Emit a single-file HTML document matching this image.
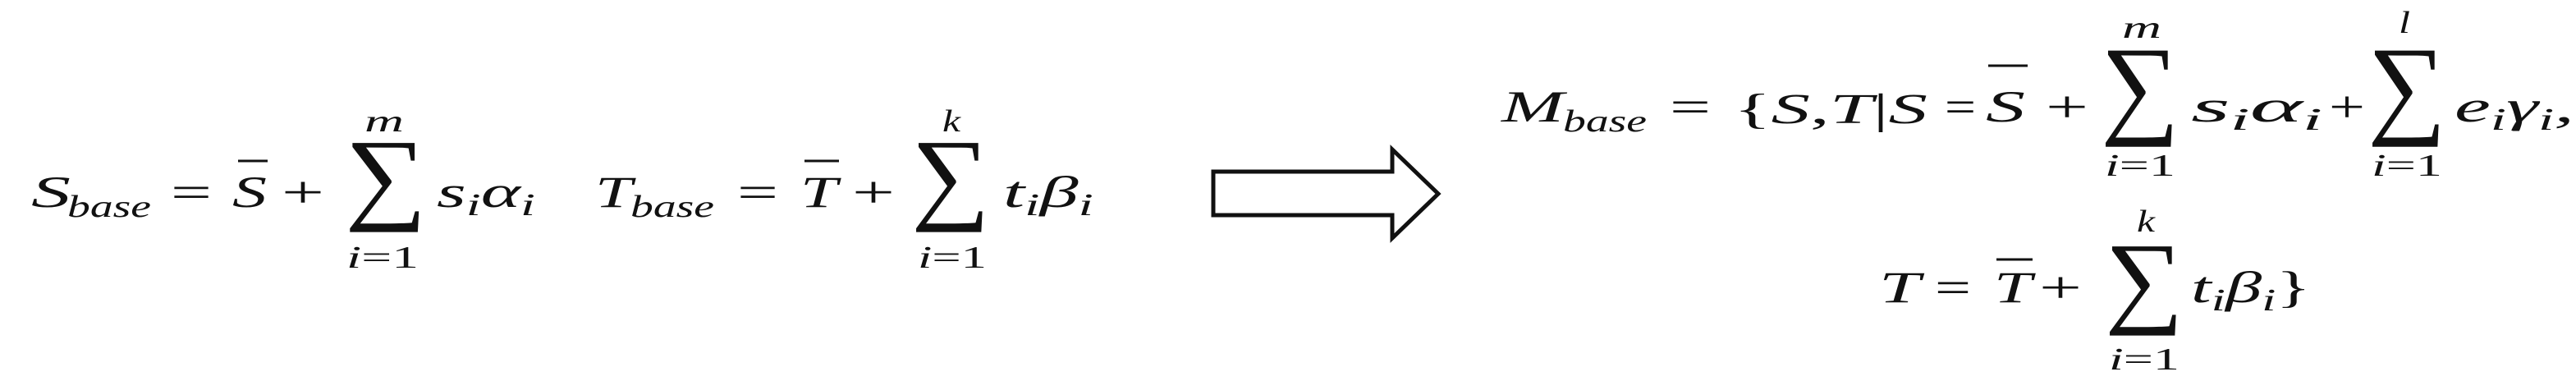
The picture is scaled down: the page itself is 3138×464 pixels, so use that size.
<!DOCTYPE html>
<html><head><meta charset="utf-8"><style>
html,body{margin:0;padding:0;background:#fff;}
svg{display:block}
text{font-family:"Liberation Serif",serif;fill:#111;}
.it{font-style:italic}
</style></head><body>
<svg width="3138" height="464" viewBox="0 0 3138 464">
<g>
  <text class="it" x="38" y="252" font-size="54" textLength="48" lengthAdjust="spacingAndGlyphs">S</text>
  <text class="it" x="82" y="264" font-size="38" textLength="102" lengthAdjust="spacingAndGlyphs">base</text>
  <text x="208" y="252" font-size="54" textLength="50" lengthAdjust="spacingAndGlyphs">=</text>
  <text class="it" x="283" y="252" font-size="54" textLength="42" lengthAdjust="spacingAndGlyphs">S</text>
  <line x1="290" y1="196" x2="326" y2="196" stroke="#111" stroke-width="3"/>
  <text x="343" y="252" font-size="54" textLength="52" lengthAdjust="spacingAndGlyphs">+</text>
  <text x="420" y="256" font-size="125" textLength="100" lengthAdjust="spacingAndGlyphs">∑</text>
  <text class="it" x="444" y="160" font-size="38" textLength="48" lengthAdjust="spacingAndGlyphs">m</text>
  <text x="422" y="326" font-size="38" textLength="88" lengthAdjust="spacingAndGlyphs"><tspan font-style="italic">i</tspan>=1</text>
  <text class="it" x="532" y="252" font-size="54" textLength="120" lengthAdjust="spacingAndGlyphs">s<tspan font-size="38" dy="10">i</tspan><tspan dy="-10">α</tspan><tspan font-size="38" dy="10">i</tspan></text>
  <text class="it" x="725" y="252" font-size="54" textLength="45" lengthAdjust="spacingAndGlyphs">T</text>
  <text class="it" x="768" y="264" font-size="38" textLength="102" lengthAdjust="spacingAndGlyphs">base</text>
  <text x="898" y="252" font-size="54" textLength="50" lengthAdjust="spacingAndGlyphs">=</text>
  <text class="it" x="975" y="252" font-size="54" textLength="45" lengthAdjust="spacingAndGlyphs">T</text>
  <line x1="980" y1="196" x2="1022" y2="196" stroke="#111" stroke-width="3"/>
  <text x="1038" y="252" font-size="54" textLength="52" lengthAdjust="spacingAndGlyphs">+</text>
  <text x="1110" y="256" font-size="125" textLength="96" lengthAdjust="spacingAndGlyphs">∑</text>
  <text class="it" x="1148" y="160" font-size="38" textLength="22" lengthAdjust="spacingAndGlyphs">k</text>
  <text x="1118" y="326" font-size="38" textLength="84" lengthAdjust="spacingAndGlyphs"><tspan font-style="italic">i</tspan>=1</text>
  <text class="it" x="1222" y="252" font-size="54" textLength="110" lengthAdjust="spacingAndGlyphs">t<tspan font-size="38" dy="10">i</tspan><tspan dy="-10">β</tspan><tspan font-size="38" dy="10">i</tspan></text>
</g>
<polygon points="1478,209 1696,209 1696,182 1752,236 1696,290 1696,262 1478,262" fill="#fff" stroke="#111" stroke-width="5"/>
<g>
  <text class="it" x="1829" y="148" font-size="54" textLength="76" lengthAdjust="spacingAndGlyphs">M</text>
  <text class="it" x="1904" y="160" font-size="38" textLength="102" lengthAdjust="spacingAndGlyphs">base</text>
  <text x="2034" y="148" font-size="54" textLength="50" lengthAdjust="spacingAndGlyphs">=</text>
  <text x="2112" y="150" font-size="52" textLength="236" lengthAdjust="spacingAndGlyphs">{<tspan font-style="italic">S</tspan>,<tspan font-style="italic">T</tspan>|<tspan font-style="italic">S</tspan></text>
  <text x="2369" y="148" font-size="54" textLength="38" lengthAdjust="spacingAndGlyphs">=</text>
  <text class="it" x="2419" y="148" font-size="54" textLength="48" lengthAdjust="spacingAndGlyphs">S</text>
  <line x1="2422" y1="80" x2="2470" y2="80" stroke="#111" stroke-width="3"/>
  <text x="2492" y="148" font-size="54" textLength="52" lengthAdjust="spacingAndGlyphs">+</text>
  <text x="2559" y="150" font-size="135" textLength="96" lengthAdjust="spacingAndGlyphs">∑</text>
  <text class="it" x="2585" y="46" font-size="38" textLength="48" lengthAdjust="spacingAndGlyphs">m</text>
  <text x="2564" y="214" font-size="38" textLength="86" lengthAdjust="spacingAndGlyphs"><tspan font-style="italic">i</tspan>=1</text>
  <text class="it" x="2669" y="148" font-size="54" textLength="160" lengthAdjust="spacingAndGlyphs">s<tspan font-size="38" dy="10">i</tspan><tspan dy="-10">α</tspan><tspan font-size="38" dy="10">i</tspan></text>
  <text x="2837" y="148" font-size="54" textLength="44" lengthAdjust="spacingAndGlyphs">+</text>
  <text x="2884" y="150" font-size="135" textLength="96" lengthAdjust="spacingAndGlyphs">∑</text>
  <text class="it" x="2922" y="40" font-size="38" textLength="14" lengthAdjust="spacingAndGlyphs">l</text>
  <text x="2889" y="214" font-size="38" textLength="86" lengthAdjust="spacingAndGlyphs"><tspan font-style="italic">i</tspan>=1</text>
  <text class="it" x="2990" y="148" font-size="54" textLength="146" lengthAdjust="spacingAndGlyphs">e<tspan font-size="38" dy="10">i</tspan><tspan dy="-10">γ</tspan><tspan font-size="38" dy="10">i</tspan><tspan dy="-10">,</tspan></text>
  <text class="it" x="2289" y="368" font-size="54" textLength="50" lengthAdjust="spacingAndGlyphs">T</text>
  <text x="2357" y="368" font-size="54" textLength="44" lengthAdjust="spacingAndGlyphs">=</text>
  <text class="it" x="2429" y="368" font-size="54" textLength="46" lengthAdjust="spacingAndGlyphs">T</text>
  <line x1="2432" y1="316" x2="2476" y2="316" stroke="#111" stroke-width="3"/>
  <text x="2484" y="368" font-size="54" textLength="52" lengthAdjust="spacingAndGlyphs">+</text>
  <text x="2564" y="382" font-size="125" textLength="96" lengthAdjust="spacingAndGlyphs">∑</text>
  <text class="it" x="2603" y="282" font-size="38" textLength="22" lengthAdjust="spacingAndGlyphs">k</text>
  <text x="2569" y="450" font-size="38" textLength="86" lengthAdjust="spacingAndGlyphs"><tspan font-style="italic">i</tspan>=1</text>
  <text class="it" x="2669" y="368" font-size="54" textLength="146" lengthAdjust="spacingAndGlyphs">t<tspan font-size="38" dy="10">i</tspan><tspan dy="-10">β</tspan><tspan font-size="38" dy="10">i</tspan><tspan dy="-10" font-style="normal">}</tspan></text>
</g>
</svg>
</body></html>
